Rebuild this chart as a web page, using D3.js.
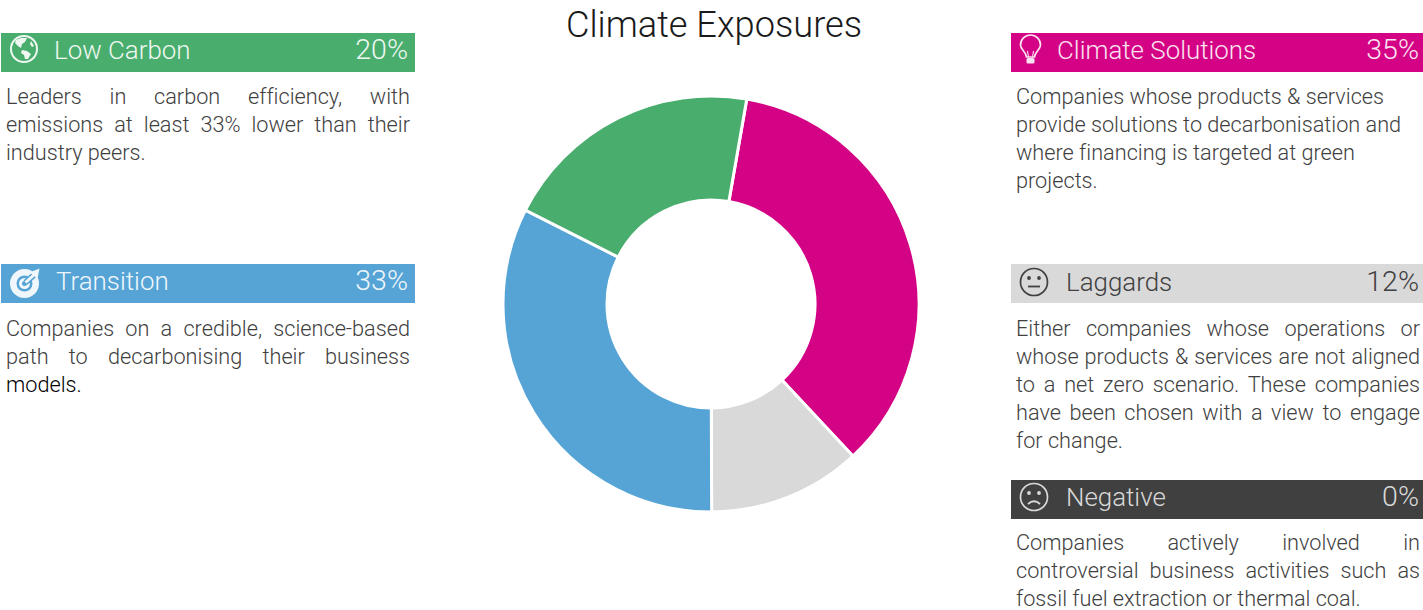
<!DOCTYPE html>
<html>
<head>
<meta charset="utf-8">
<script src="https://cdn.jsdelivr.net/npm/d3@7"></script>
<style>
  html, body { margin: 0; padding: 0; background: #fff; overflow: hidden; }
  text { font-family: "Roboto", sans-serif; font-weight: 300; font-variant-ligatures: none; }
</style>
</head>
<body>
<svg width="1423" height="610"></svg>
<script>
// chart values
const categories = ["Climate Solutions", "Laggards", "Negative", "Transition", "Low Carbon"];
const values = [35.3, 11.9, 0, 32.5, 20.3];
const valueLabels = ["35%", "12%", "0%", "33%", "20%"];
const colors = ["#d40284", "#d9d9d9", "#404040", "#56a4d5", "#49ad6e"];
const headColors = ["#fbe3f1", "#404040", "#d9d9d9", "#f0f7fc", "#eef8f1"];
const icons = ["bulb", "neutral", "sad", "target", "globe"];
const descriptions = [
  ["Companies whose products & services", "provide solutions to decarbonisation and", "where financing is targeted at green", "projects."],
  ["Either companies whose operations or", "whose products & services are not aligned", "to a net zero scenario. These companies", "have been chosen with a view to engage", "for change."],
  ["Companies actively involved in", "controversial business activities such as", "fossil fuel extraction or thermal coal."],
  ["Companies on a credible, science-based", "path to decarbonising their business", "models."],
  ["Leaders in carbon efficiency, with", "emissions at least 33% lower than their", "industry peers."]
];
// lines stretched to the full column width
const justified = [
  [],
  [0, 1, 2, 3],
  [0, 1],
  [0, 1],
  [0, 1]
];

// card layout, same order as categories
const cardX = [1011, 1011, 1011, 1, 1];
const cardY = [33, 264, 480, 264, 33];
const cardW = [412, 412, 412, 414, 414];
const labelX = [46, 55, 55, 55, 53];
const labelY = [25.5, 26.5, 26, 26, 25.5];
const pctX = [408, 408, 408, 407, 407];
const bodyY = [70.7, 72, 69.8, 72, 70.7];
const iconX = [19.5, 23, 23, 23.5, 23];
const iconY = [16, 18, 17, 19.5, 16];
const rowH = 28.1;

const svg = d3.select("svg");

svg.append("text")
  .attr("x", 714)
  .attr("y", 36.5)
  .attr("text-anchor", "middle")
  .attr("font-size", 36.2)
  .attr("fill", "#1a1a1a")
  .text("Climate Exposures");

// donut
const pie = d3.pie().sort(null).startAngle(9.9 * Math.PI / 180).endAngle(369.9 * Math.PI / 180);
const arc = d3.arc().innerRadius(104).outerRadius(208);
const pieData = pie(values);

svg.append("g")
  .attr("transform", "translate(711,304)")
  .selectAll("path")
  .data(pieData.filter(d => d.value > 0))
  .join("path")
  .attr("d", arc)
  .attr("fill", d => colors[d.index])
  .attr("stroke", "#fff")
  .attr("stroke-width", 3);

// cards
const card = svg.selectAll("g.card")
  .data(categories)
  .join("g")
  .attr("class", "card")
  .attr("transform", (d, i) => `translate(${cardX[i]},${cardY[i]})`);

card.append("rect")
  .attr("width", (d, i) => cardW[i])
  .attr("height", 39)
  .attr("fill", (d, i) => colors[i]);

card.append("text")
  .attr("x", (d, i) => labelX[i])
  .attr("y", (d, i) => labelY[i])
  .attr("font-size", 25.9)
  .attr("fill", (d, i) => headColors[i])
  .text(d => d);

card.append("text")
  .attr("x", (d, i) => pctX[i])
  .attr("y", (d, i) => labelY[i])
  .attr("text-anchor", "end")
  .attr("font-size", 28.5)
  .attr("fill", (d, i) => headColors[i])
  .text((d, i) => valueLabels[i]);

card.each(function (d, i) {
  const g = d3.select(this);
  descriptions[i].forEach((line, j) => {
    const t = g.append("text")
      .attr("x", 5)
      .attr("y", bodyY[i] + j * rowH)
      .attr("font-size", 21.7)
      .attr("fill", line === "models." ? "#000" : "#404040")
      .text(line);
    if (justified[i].includes(j)) {
      const gaps = line.split(" ").length - 1;
      const extra = (404 - t.node().getComputedTextLength()) / gaps;
      t.attr("word-spacing", extra);
    }
  });
  drawIcon(g.append("g").attr("transform", `translate(${iconX[i]},${iconY[i]})`), icons[i], headColors[i], colors[i]);
});

function drawIcon(g, kind, c, bg) {
  if (kind === "neutral" || kind === "sad") {
    g.append("circle").attr("r", 13.5).attr("fill", "none").attr("stroke", c).attr("stroke-width", 1.7);
    g.append("circle").attr("cx", -5).attr("cy", -4).attr("r", 1.9).attr("fill", c);
    g.append("circle").attr("cx", 5).attr("cy", -4).attr("r", 1.9).attr("fill", c);
    g.append("path")
      .attr("d", kind === "sad" ? "M-6,7 Q0,1.5 6,7" : "M-6,4.5 H6")
      .attr("fill", "none").attr("stroke", c).attr("stroke-width", 1.8);
  } else if (kind === "globe") {
    g.append("circle").attr("r", 13).attr("fill", "none").attr("stroke", c).attr("stroke-width", 2);
    g.append("path").attr("fill", c)
      .attr("d", "M-8,-9 L-3,-11 L3,-11 L1,-7 L-2,-5 L-3,-1 L-6,-3 L-9,-6 Z M-2,1 L3,2 L7,5 L4,10 L1,10 L0,6 L-3,4 Z M7,-8 L10,-3 L8,-2 L6,-5 Z");
  } else if (kind === "target") {
    g.append("circle").attr("r", 14.5).attr("fill", c);
    g.append("circle").attr("r", 8).attr("fill", bg);
    g.append("circle").attr("r", 5.5).attr("fill", c);
    g.append("circle").attr("r", 2.5).attr("fill", bg);
    g.append("path").attr("d", "M1,-1 L10,-9").attr("stroke", bg).attr("stroke-width", 6);
    g.append("path").attr("d", "M1,-1 L11,-10").attr("stroke", c).attr("stroke-width", 3);
    g.append("path").attr("d", "M5,-11 L15,-15 L13,-5 Z").attr("fill", c);
  } else if (kind === "bulb") {
    g.append("path")
      .attr("d", "M-4,8 C-4,3 -10,1 -10,-4 A10,10 0 0 1 10,-4 C10,1 4,3 4,8 Z")
      .attr("fill", "none").attr("stroke", c).attr("stroke-width", 1.7);
    g.append("path").attr("d", "M-2,8 L-3,2 M2,8 L3,2").attr("stroke", c).attr("stroke-width", 1.1).attr("fill", "none");
    g.append("rect").attr("x", -4).attr("y", 9).attr("width", 8).attr("height", 5.5).attr("rx", 1.5).attr("fill", c);
  }
}
</script>
</body>
</html>
